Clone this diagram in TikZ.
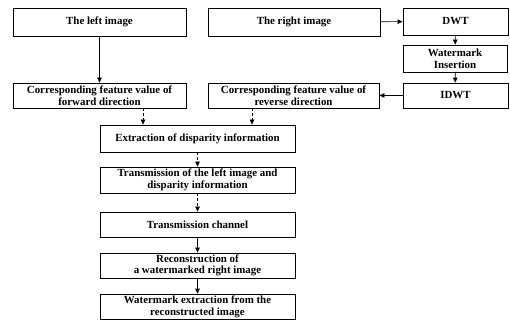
\documentclass[tikz,border=0pt]{standalone}
\usepackage{fontspec}
\setmainfont{Liberation Serif}
\usetikzlibrary{arrows.meta}
\begin{document}
\begin{tikzpicture}[x=1pt,y=-1pt,
  box/.style={draw,line width=0.8pt,inner sep=0pt,align=center,font=\bfseries\fontsize{10.9}{11.6}\selectfont},
  arr/.style={line width=0.6pt,-{Triangle[width=4.5pt,length=5pt]}},
  dsh/.style={arr,dash pattern=on 3pt off 2pt}]
\useasboundingbox (0,0) rectangle (510,320);
\node[box,minimum width=173pt,minimum height=28pt] (L) at (99.5,22) {The left image};
\node[box,minimum width=172pt,minimum height=28pt] (R) at (294,22) {The right image};
\node[box,minimum width=105pt,minimum height=27pt] (DWT) at (455.5,21.5) {DWT};
\node[box,minimum width=104pt,minimum height=27pt] (WM) at (455,58.5) {Watermark\\Insertion};
\node[box,minimum width=105pt,minimum height=25pt] (IDWT) at (455.5,95.5) {IDWT};
\node[box,minimum width=173pt,minimum height=25pt] (F) at (99.5,95.5) {Corresponding feature value of\\forward direction};
\node[box,minimum width=171pt,minimum height=25pt] (Rev) at (293.5,95.5) {Corresponding feature value of\\reverse direction};
\node[box,minimum width=195pt,minimum height=27pt] (E) at (197.5,138.5) {Extraction of disparity information};
\node[box,minimum width=195pt,minimum height=26pt] (T) at (197.5,180) {Transmission of the left image and\\disparity information};
\node[box,minimum width=195pt,minimum height=25pt] (C) at (197.5,224.5) {Transmission channel};
\node[box,minimum width=195pt,minimum height=25pt] (Rc) at (197.5,265.5) {Reconstruction of\\a watermarked right image};
\node[box,minimum width=195pt,minimum height=25pt] (WE) at (197.5,306.6) {Watermark extraction from the\\reconstructed image};
\draw[arr] (L) -- (F);
\draw[arr] (R) -- (DWT);
\draw[arr] (DWT) -- (WM);
\draw[arr] (WM) -- (IDWT);
\draw[arr] (IDWT) -- (Rev);
\draw[dsh] ([xshift=43.5pt]F.south) -- ([xshift=43.5pt]F.south |- E.north);
\draw[dsh] ([xshift=-41.5pt]Rev.south) -- ([xshift=-41.5pt]Rev.south |- E.north);
\draw[dsh] (E) -- (T);
\draw[dsh] (T) -- (C);
\draw[arr] (C) -- (Rc);
\draw[arr] (Rc) -- (WE);
\end{tikzpicture}
\end{document}
